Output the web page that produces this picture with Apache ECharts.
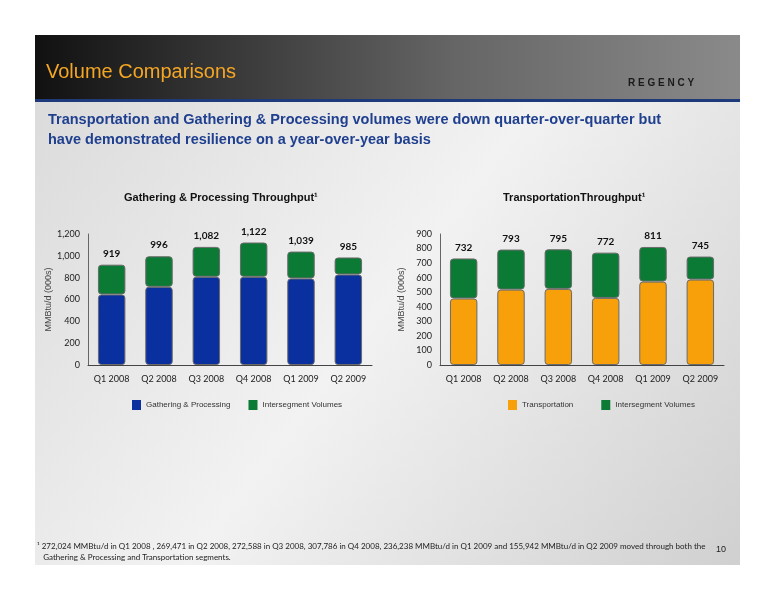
<!DOCTYPE html>
<html><head><meta charset="utf-8">
<script src="https://cdn.jsdelivr.net/npm/echarts@6/dist/echarts.min.js"></script>
<style>html,body{margin:0;padding:0;background:#fff}#c{width:776px;height:600px}</style>
</head><body><div id="c"></div>
<script>
const categories = ['Q1 2008','Q2 2008','Q3 2008','Q4 2008','Q1 2009','Q2 2009'];
const gpTotals = [919, 996, 1082, 1122, 1039, 985];
const gpBase = [646, 716, 808, 808, 793, 829];
const trTotals = [732, 793, 795, 772, 811, 745];
const trBase = [457, 518, 523, 461, 573, 587];
const gpTicks = [0, 200, 400, 600, 800, 1000, 1200];
const trTicks = [0, 100, 200, 300, 400, 500, 600, 700, 800, 900];

const gpInter = gpTotals.map((t, i) => t - gpBase[i]);
const trInter = trTotals.map((t, i) => t - trBase[i]);

const chart = echarts.init(document.getElementById('c'));
const tickFont = {fontFamily: 'Lato', fontSize: 9, color: '#222'};
function yAxis(idx, max, interval) {
  return {gridIndex: idx, min: 0, max: max, interval: interval, splitLine: {show: false},
    axisLine: {show: true, lineStyle: {color: '#666'}}, axisTick: {show: false},
    axisLabel: Object.assign({}, tickFont, {formatter: v => v.toLocaleString('en-US')}),
    name: 'MMBtu/d (000s)', nameLocation: 'middle', nameGap: 34,
    nameTextStyle: {fontFamily: 'Liberation Sans', fontSize: 9, color: '#444'}};
}
function xAxis(idx) {
  return {gridIndex: idx, type: 'category', data: categories,
    axisLine: {lineStyle: {color: '#444'}}, axisTick: {show: false},
    axisLabel: Object.assign({}, tickFont, {margin: 10})};
}
const barBase = {type: 'bar', barWidth: '58%',
  itemStyle: {borderColor: '#6a6a6a', borderWidth: 1, borderRadius: 3}};
function topLabel(totals) {
  return {show: true, position: 'top', distance: 6, fontFamily: 'Lato', fontWeight: 'bold',
    fontSize: 10, color: '#111', formatter: p => totals[p.dataIndex].toLocaleString('en-US')};
}
const legText = {fontFamily: 'Liberation Sans', fontSize: 8, color: '#333'};
chart.setOption({
  animation: false,
  backgroundColor: '#fff',
  graphic: [
    {type: 'rect', shape: {x: 35, y: 35, width: 705, height: 530}, z: -10,
      style: {fill: new echarts.graphic.LinearGradient(0, 0, 1, 1, [{offset: 0, color: '#d9d9d9'}, {offset: 0.5, color: '#f2f2f2'}, {offset: 1, color: '#d0d0d0'}])}},
    {type: 'rect', shape: {x: 35, y: 35, width: 705, height: 64}, z: -9,
      style: {fill: new echarts.graphic.LinearGradient(0, 0, 1, 0, [{offset: 0, color: '#111'}, {offset: 0.6, color: '#666'}, {offset: 1, color: '#8a8a8a'}])}},
    {type: 'rect', shape: {x: 35, y: 99, width: 705, height: 3}, z: -9, style: {fill: '#1f3a7a'}},
    {type: 'text', left: 46, top: 62, style: {text: 'Volume Comparisons', fill: '#f5a623', font: '20px "Liberation Sans", Arial'}},
    {type: 'text', left: 628, top: 78, style: {text: 'R E G E N C Y', fill: '#1a1a1a', font: 'bold 10px "Liberation Sans"'}},
    {type: 'text', left: 48, top: 110, style: {text: 'Transportation and Gathering & Processing volumes were down quarter-over-quarter but\nhave demonstrated resilience on a year-over-year basis', fill: '#1f3f8f', lineHeight: 20, font: 'bold 14.5px "Liberation Sans Narrow", "Liberation Sans"'}},
    {type: 'text', left: 124, top: 192, style: {text: 'Gathering & Processing Throughput¹', fill: '#111', font: 'bold 11px "Liberation Sans"'}},
    {type: 'text', left: 503, top: 192, style: {text: 'TransportationThroughput¹', fill: '#111', font: 'bold 11px "Liberation Sans"'}},
    {type: 'text', left: 37, top: 541, style: {text: '¹ 272,024 MMBtu/d in Q1 2008 , 269,471 in Q2 2008, 272,588 in Q3 2008, 307,786 in Q4 2008, 236,238 MMBtu/d in Q1 2009 and 155,942 MMBtu/d in Q2 2009 moved through both the\n   Gathering & Processing and Transportation segments.', fill: '#222', lineHeight: 11, font: '8px Lato'}},
    {type: 'text', left: 716, top: 545, style: {text: '10', fill: '#222', font: '9px "Liberation Sans"'}}
  ],
  legend: [
    {data: ['Gathering & Processing', 'Intersegment Volumes'], left: 127, top: 395, itemWidth: 9, itemHeight: 10, itemGap: 18,
      icon: 'rect', itemStyle: {borderWidth: 0}, textStyle: legText},
    {data: ['Transportation', {name: 'Intersegment Volumes '}], left: 503, top: 395, itemWidth: 9, itemHeight: 10, itemGap: 28,
      icon: 'rect', itemStyle: {borderWidth: 0}, textStyle: legText}
  ],
  grid: [
    {left: 88, top: 234, width: 284, height: 131},
    {left: 440, top: 234, width: 284, height: 131}
  ],
  xAxis: [xAxis(0), xAxis(1)],
  yAxis: [yAxis(0, 1200, 200), yAxis(1, 900, 100)],
  series: [
    Object.assign({}, barBase, {name: 'Gathering & Processing', stack: 'a', xAxisIndex: 0, yAxisIndex: 0, data: gpBase, itemStyle: Object.assign({}, barBase.itemStyle, {color: '#0a2f9e'})}),
    Object.assign({}, barBase, {name: 'Intersegment Volumes', stack: 'a', xAxisIndex: 0, yAxisIndex: 0, data: gpInter, label: topLabel(gpTotals), itemStyle: Object.assign({}, barBase.itemStyle, {color: '#0b7a35'})}),
    Object.assign({}, barBase, {name: 'Transportation', stack: 'b', xAxisIndex: 1, yAxisIndex: 1, data: trBase, itemStyle: Object.assign({}, barBase.itemStyle, {color: '#f7a00a'})}),
    Object.assign({}, barBase, {name: 'Intersegment Volumes ', stack: 'b', xAxisIndex: 1, yAxisIndex: 1, data: trInter, label: topLabel(trTotals), itemStyle: Object.assign({}, barBase.itemStyle, {color: '#0b7a35'})})
  ]
});
</script></body></html>
